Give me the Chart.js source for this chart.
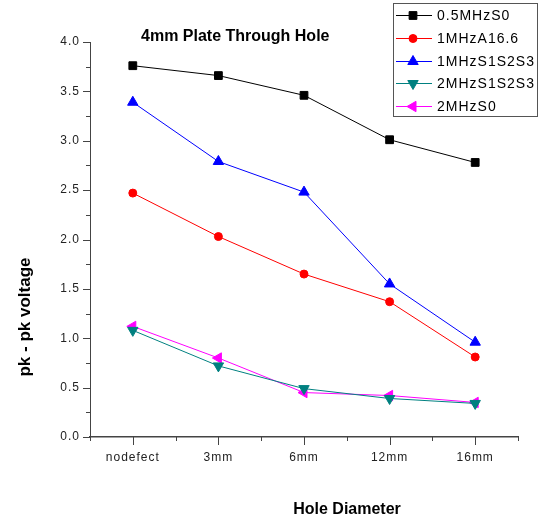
<!DOCTYPE html>
<html>
<head>
<meta charset="utf-8">
<script src="https://cdn.jsdelivr.net/npm/chart.js@4/dist/chart.umd.min.js"></script>
<style>
  html, body { margin: 0; padding: 0; background: #fff; }
  canvas { display: block; }
</style>
</head>
<body>
<canvas id="c" width="543" height="519"></canvas>
<script>
// Hole sizes along the x axis
const categories = ['nodefect', '3mm', '6mm', '12mm', '16mm'];

// Peak-to-peak voltage per excitation mode
const seriesNames = ['0.5MHzS0', '1MHzA16.6', '1MHzS1S2S3', '2MHzS1S2S3', '2MHzS0'];
const s05MHzS0    = [3.76, 3.66, 3.46, 3.01, 2.78];
const s1MHzA166   = [2.47, 2.03, 1.65, 1.37, 0.81];
const s1MHzS1S2S3 = [3.39, 2.79, 2.48, 1.55, 0.96];
const s2MHzS1S2S3 = [1.08, 0.72, 0.49, 0.39, 0.34];
const s2MHzS0     = [1.12, 0.80, 0.45, 0.42, 0.35];

const yTickValues = [0, 0.5, 1, 1.5, 2, 2.5, 3, 3.5, 4];

const titleText = '4mm Plate Through Hole';
const xTitle = 'Hole Diameter';
const yTitle = 'pk - pk voltage';

const FONT = "'Liberation Sans', Arial, sans-serif";
const AXIS_COLOR = '#444';

function series(label, data, color, style, rotation, radius) {
  return {
    label, data,
    borderColor: color, backgroundColor: color,
    borderWidth: 1,
    pointStyle: style, pointRotation: rotation,
    pointRadius: radius, pointHoverRadius: radius,
    pointBorderWidth: 1,
    tension: 0, fill: false
  };
}

// Tick marks, axis titles, chart title and the boxed legend
const decorations = {
  id: 'decorations',
  beforeDraw(chart) {
    chart.ctx.letterSpacing = '1px';
  },
  afterDraw(chart) {
    const ctx = chart.ctx;
    const x = chart.scales.x, y = chart.scales.y;
    const area = chart.chartArea;
    ctx.save();
    ctx.strokeStyle = AXIS_COLOR;
    ctx.lineWidth = 1;
    ctx.beginPath();
    // y ticks: major every 0.5, minor between
    for (let v = 0; v <= 4.0001; v += 0.25) {
      const py = Math.round(y.getPixelForValue(v)) + 0.5;
      const major = Math.abs(v * 2 - Math.round(v * 2)) < 1e-6;
      ctx.moveTo(area.left, py);
      ctx.lineTo(area.left - (major ? 7 : 4), py);
    }
    // x ticks: major at categories, minor at boundaries
    for (let i = 0; i < categories.length; i++) {
      const px = Math.round(x.getPixelForValue(i)) + 0.5;
      ctx.moveTo(px, area.bottom);
      ctx.lineTo(px, area.bottom + 8);
    }
    for (let i = -0.5; i <= categories.length - 0.5; i += 1) {
      const px = Math.round(x.getPixelForValue(i)) + 0.5;
      ctx.moveTo(px, area.bottom);
      ctx.lineTo(px, area.bottom + 4);
    }
    ctx.stroke();

    ctx.letterSpacing = '0px';
    ctx.fillStyle = '#000';
    ctx.textBaseline = 'middle';

    ctx.font = 'bold 16px ' + FONT;
    ctx.textAlign = 'left';
    ctx.fillText(titleText, 141, 37);

    ctx.font = 'bold 16px ' + FONT;
    ctx.textAlign = 'center';
    ctx.fillText(xTitle, 347, 510);

    ctx.save();
    ctx.font = 'bold 17px ' + FONT;
    ctx.translate(25, 317);
    ctx.rotate(-Math.PI / 2);
    ctx.fillText(yTitle, 0, 0);
    ctx.restore();

    // legend box
    const bx = 393, by = 3, bw = 144, bh = 113;
    ctx.fillStyle = '#fff';
    ctx.fillRect(bx, by, bw, bh);
    ctx.strokeStyle = '#555';
    ctx.strokeRect(bx + 0.5, by + 0.5, bw, bh);
    const rows = [15, 38, 61, 83, 106];
    ctx.font = '14px ' + FONT;
    ctx.letterSpacing = '1px';
    ctx.textAlign = 'left';
    chart.data.datasets.forEach((ds, i) => {
      const ry = rows[i] + 0.5;
      ctx.strokeStyle = ds.borderColor;
      ctx.lineWidth = 1;
      ctx.beginPath();
      ctx.moveTo(396, ry);
      ctx.lineTo(432, ry);
      ctx.stroke();
      ctx.fillStyle = ds.backgroundColor;
      if (Chart.helpers && Chart.helpers.drawPoint) {
        Chart.helpers.drawPoint(ctx, {
          pointStyle: ds.pointStyle, rotation: ds.pointRotation,
          radius: ds.pointRadius, borderWidth: 1
        }, 413, ry);
      }
      ctx.fillStyle = '#000';
      ctx.fillText(ds.label, 437, rows[i] + 1);
    });
    ctx.restore();
  }
};

new Chart(document.getElementById('c'), {
  type: 'line',
  data: {
    labels: categories,
    datasets: [
      series(seriesNames[0], s05MHzS0,    '#000000', 'rect',     0,   5.5),
      series(seriesNames[1], s1MHzA166,   '#ff0000', 'circle',   0,   4),
      series(seriesNames[2], s1MHzS1S2S3, '#0000ff', 'triangle', 0,   6),
      series(seriesNames[3], s2MHzS1S2S3, '#008080', 'triangle', 180, 6),
      series(seriesNames[4], s2MHzS0,     '#ff00ff', 'triangle', -90, 6)
    ]
  },
  options: {
    responsive: false,
    animation: false,
    layout: { padding: { top: 42, right: 25, left: 0, bottom: 0 } },
    plugins: { legend: { display: false }, title: { display: false }, tooltip: { enabled: false } },
    scales: {
      x: {
        type: 'category',
        offset: true,
        grid: { display: false, drawTicks: false },
        border: { display: true, color: AXIS_COLOR, width: 1.5 },
        ticks: { color: '#222', font: { family: FONT, size: 12 }, padding: 13, maxRotation: 0 },
        afterFit(scale) { scale.height = 82; }
      },
      y: {
        min: 0, max: 4,
        afterBuildTicks(scale) { scale.ticks = yTickValues.map(v => ({ value: v })); },
        grid: { display: false, drawTicks: false },
        border: { display: true, color: AXIS_COLOR, width: 1 },
        ticks: {
          color: '#222', font: { family: FONT, size: 12 }, padding: 10,
          callback: v => Number(v).toFixed(1)
        },
        afterFit(scale) { scale.width = 90; }
      }
    }
  },
  plugins: [decorations]
});
</script>
</body>
</html>
